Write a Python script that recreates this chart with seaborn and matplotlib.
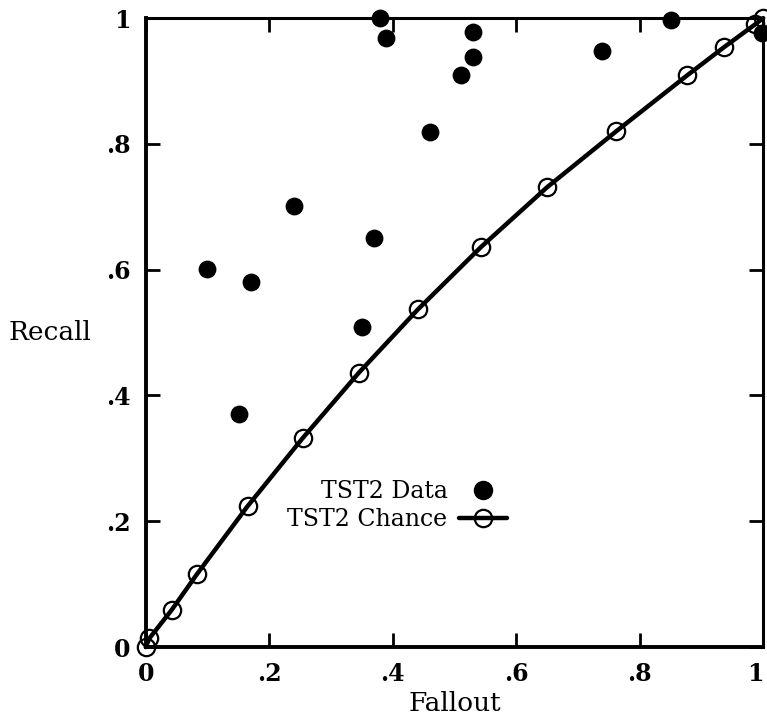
import matplotlib
matplotlib.use("Agg")
import matplotlib.pyplot as plt
import seaborn as sns
import pandas as pd
from matplotlib.lines import Line2D

# Data
data_fallout = [0.379, 0.389, 0.530, 0.530, 0.511, 0.460, 0.739, 0.851, 0.998,
                0.240, 0.370, 0.100, 0.170, 0.350, 0.151]
data_recall = [1.000, 0.968, 0.978, 0.938, 0.909, 0.819, 0.948, 0.997, 0.976,
               0.701, 0.650, 0.601, 0.580, 0.509, 0.370]

chance_fallout = [0.0, 0.006, 0.042, 0.083, 0.165, 0.254, 0.345, 0.441, 0.543,
                  0.650, 0.762, 0.877, 0.937, 0.987, 1.0]
chance_recall = [0.0, 0.014, 0.059, 0.116, 0.224, 0.332, 0.436, 0.537, 0.636,
                 0.731, 0.820, 0.909, 0.954, 0.990, 1.0]

tick_values = [0, 0.2, 0.4, 0.6, 0.8, 1.0]
tick_labels = ["0", ".2", ".4", ".6", ".8", "1"]

sns.set_theme(style="white")
plt.rcParams["font.family"] = ["DejaVu Serif"]
plt.rcParams["text.color"] = "black"
plt.rcParams["axes.labelcolor"] = "black"

fig = plt.figure(figsize=(7.67, 7.23), dpi=100)
ax = fig.add_axes([0.190, 0.105, 0.805, 0.870])

df_data = pd.DataFrame({"Fallout": data_fallout, "Recall": data_recall})
df_chance = pd.DataFrame({"Fallout": chance_fallout, "Recall": chance_recall})

sns.lineplot(data=df_chance, x="Fallout", y="Recall", ax=ax, color="black",
             linewidth=3.2, marker="o", markersize=12.5, markerfacecolor="none",
             markeredgecolor="black", markeredgewidth=1.6, sort=False,
             clip_on=False, zorder=3)
sns.scatterplot(data=df_data, x="Fallout", y="Recall", ax=ax, color="black",
                s=165, edgecolor="black", linewidth=0, clip_on=False, zorder=4)

ax.set_xlim(0, 1)
ax.set_ylim(0, 1)
ax.set_xticks(tick_values)
ax.set_xticklabels(tick_labels)
ax.set_yticks(tick_values)
ax.set_yticklabels(tick_labels)

ax.tick_params(direction="in", length=10, width=2, top=True, right=True,
               bottom=True, left=True, labelsize=17, pad=11, colors="black")
for lab in ax.get_xticklabels() + ax.get_yticklabels():
    lab.set_fontweight("bold")
ax.get_xticklabels()[-1].set_horizontalalignment("right")

for side in ["left", "bottom"]:
    ax.spines[side].set_linewidth(2.8)
for side in ["top", "right"]:
    ax.spines[side].set_linewidth(2.2)
for s in ax.spines.values():
    s.set_color("black")
    s.set_visible(True)

ax.set_xlabel("Fallout", fontsize=19, labelpad=3)
ax.set_ylabel("Recall", fontsize=19, rotation=0, labelpad=40, va="center")

handles = [
    Line2D([], [], linestyle="none", marker="o", markersize=13,
           markerfacecolor="black", markeredgecolor="black"),
    Line2D([], [], color="black", linewidth=3.2, marker="o", markersize=12.5,
           markerfacecolor="none", markeredgecolor="black", markeredgewidth=1.6),
]
ax.legend(handles, ["TST2 Data", "TST2 Chance"], loc="center",
          bbox_to_anchor=(0.407, 0.225), frameon=False, markerfirst=False,
          fontsize=17, handlelength=2.0, handletextpad=0.5, labelspacing=0.2,
          labelcolor="black")

fig.savefig("out.png", dpi=100)
